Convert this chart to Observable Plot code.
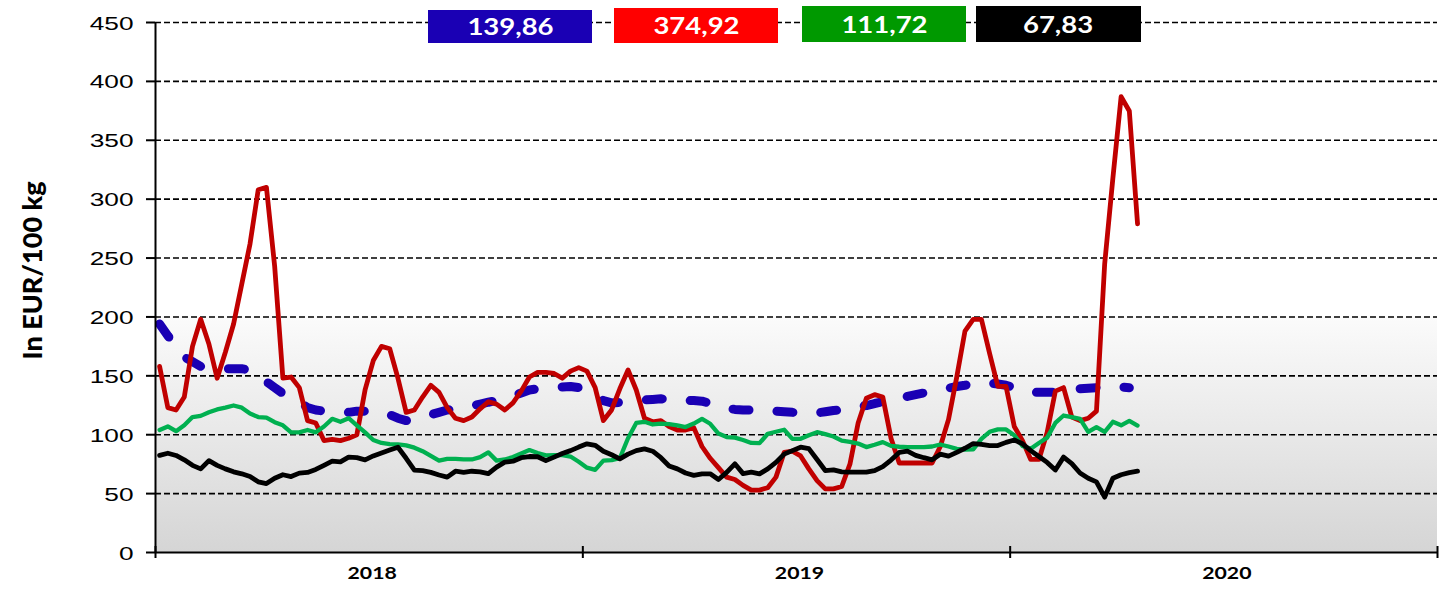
<!DOCTYPE html>
<html><head><meta charset="utf-8">
<script src="https://cdn.jsdelivr.net/npm/d3@7"></script>
<script src="https://cdn.jsdelivr.net/npm/@observablehq/plot@0.6"></script>
<style>
html,body{margin:0;padding:0;background:#fff;overflow:hidden;}
#wrap{position:relative;width:1439px;height:589px;overflow:hidden;}
.badge{position:absolute;color:#fff;font-family:Lato,sans-serif;font-weight:bold;font-size:22px;display:flex;align-items:center;justify-content:center;}
.badge span{display:inline-block;transform:scaleX(1.25);}
</style></head><body><div id="wrap"></div>
<script>
// ---- data ----
const years = ["2018", "2019", "2020"];
const yearStarts = [0, 52, 104, 156];          // week index of year boundaries
const yTicks = [0, 50, 100, 150, 200, 250, 300, 350, 400, 450];
const yTitle = "In EUR/100 kg";
const shadeTop = 200;
const legendValues = ["139,86", "374,92", "111,72", "67,83"];

// weekly values, week 1 of 2018 onwards
const blue = [194,184,175,166,162,158,157,156,156,156, 156,155,150,145,140,135,132,128,123,121,
  120,119,119,119,120,120,120,120,117,114, 112,113,114,117,119,121,122,123,124.5,126,
  127.6,129,130.5,133,135.5,138,139,139.5,140,140.5, 141,140,135.5,132,129,127,127.5,128.5,129,129.5,
  130,130.5,130,129,129,129,128.5,126.5,124,122.5, 121.5,121,121,121,121,120,119.5,119,118.5,117.7,
  118.5,119.5,120.5,121,122.5,123.8,124.8,126.5,128,129.5, 131,132.5,134,135.5,137,138.5,139.5,141,142,143.5,
  144.6,144,143,142,140,137,136,136,136,136, 136.5,137.5,139,139.5,140,141,141,140.5,139.86,null];
const red = [158,123,121,132,175,198,177,148,170,194, 228,262,308,310,243,148,149,140,112,110,
  95,96,95,97,100,138,163,175,173,148, 119,121,132,142,136,123,114,112,115,122,
  128,126,121,127,137,149,153,153,152,148, 154,157,154,140,112,121,139,155,138,114,
  111,112,107,104,104,106,90,80,72,64, 62,57,53,53,55,64,85,86,82,71,
  61,54,54,56,75,110,131,134,132,97, 76,76,76,76,76,90,113,149,188,198,
  198,169,141,141,107,95,79,79,102,137, 140,115,112,114,120,245,318,387,374.92,279];
const green = [104,107,103,108,115,116,119,121.5,123,124.8, 123,118,115,114.5,110.6,108,102,102,104,102,
  107,113.5,111,114,108,102,95.5,93,92,91.8, 91,89,86,82,78,79.5,79.5,79,79,81,
  85,78,79,81,84,87,84.5,82.5,82.6,82.7, 81.5,77,72,70.2,78,78.4,80,97,110,111,
  108.7,109.5,109,108,106.5,109.5,113.5,109.3,101,98, 97.5,95.5,93,92.8,100.8,102.5,104.2,96.5,96.5,99.5,
  102.2,100.5,98.5,95,94,92.5,89.5,91.5,93.7,90.5, 89.8,89.4,89.4,89.4,90,91.7,90,88,87.3,87.5,
  96.5,102.5,104.5,104.5,99.5,90.5,88,93,97.5,110, 116.3,115,113.5,102.5,106.5,102.5,111,108,111.72,107.8];
const black = [82.5,84.3,82.4,78.7,74,71,78,74,71,68.5, 66.8,64.5,60,58.5,63,66,64.5,67.4,68,70.5,
  74,77.5,77,81,80.5,78.7,82,84.5,87,89.4, 80,70,69.5,68,65.8,64,69,68,69,68.5,
  67,72.5,76.7,77.5,80.5,81.5,81.3,78,81,84, 86.5,89.5,92.3,91,86,83,79.5,83.5,86.5,88,
  86,80.5,73.5,71,67.5,65.5,66.8,66.8,62,68, 75.3,67,68.2,66.8,71,76.5,83.5,86.5,89.4,88.2,
  79,69.6,70.2,68.5,68.2,68.2,68.2,69.5,73,78.5, 85,86,82.5,80.5,78.7,83.5,81.8,85,88.5,92.5,
  91.8,90.8,90.8,93.5,95.5,92.3,86.5,81.5,76.5,70, 81,75.5,67.5,63,60,47,63,66,67.83,69];

// ---- helpers ----
const rows = vals => vals.map((v, i) => ({x: i + 0.5, y: v})).filter(d => d.y != null);
const xDomain = [yearStarts[0], yearStarts[yearStarts.length - 1]];
const yearMids = years.map((y, i) => ({x: (yearStarts[i] + yearStarts[i + 1]) / 2, label: y}));
const shade = [{x1: xDomain[0], x2: xDomain[1], y1: 0, y2: shadeTop}];
const yLabels = yTicks.map(v => ({y: v, label: String(v)}));

const svg = Plot.plot({
  width: 1439, height: 589,
  marginLeft: 155, marginRight: 2, marginTop: 22, marginBottom: 37,
  x: {domain: xDomain, axis: null, label: null},
  y: {domain: [yTicks[0], yTicks[yTicks.length - 1]], axis: null, label: null},
  style: {background: "#fff", fontFamily: "Liberation Sans, Arial, sans-serif"},
  marks: [
    Plot.rect(shade, {x1: "x1", x2: "x2", y1: "y1", y2: "y2", fill: "#e6e6e6", className: "shade"}),
    Plot.ruleY(yTicks.filter(d => d > 0), {stroke: "#000", strokeWidth: 1.6, strokeDasharray: "6,3", className: "grid"}),
    Plot.line(rows(blue), {x: "x", y: "y", stroke: "#1a00b4", strokeWidth: 9, strokeDasharray: "16,28", strokeLinecap: "round", strokeLinejoin: "round"}),
    Plot.line(rows(red), {x: "x", y: "y", stroke: "#c00000", strokeWidth: 4.8, strokeLinejoin: "round"}),
    Plot.line(rows(green), {x: "x", y: "y", stroke: "#00b050", strokeWidth: 4.3, strokeLinejoin: "round"}),
    Plot.line(rows(black), {x: "x", y: "y", stroke: "#000", strokeWidth: 4.8, strokeLinejoin: "round"}),
    Plot.ruleY([0], {stroke: "#000", strokeWidth: 2}),
    Plot.ruleX([xDomain[0]], {stroke: "#000", strokeWidth: 2}),
    Plot.axisY({ticks: yTicks, tickSize: 9, tickFormat: () => "", strokeWidth: 2, label: null}),
    Plot.axisX({ticks: yearStarts, tickSize: 12, dy: -6, tickFormat: () => "", strokeWidth: 2, label: null}),
    Plot.text(yLabels, {y: "y", text: "label", frameAnchor: "left", textAnchor: "end", dx: -22, dy: 1.5, fontSize: 17.5, fontFamily: "Liberation Sans", fill: "#000", className: "ylab"}),
    Plot.text(yearMids, {x: "x", text: "label", frameAnchor: "bottom", dy: 26, dx: 3, fontSize: 17, fontFamily: "Lato", fontWeight: "bold", fill: "#000", className: "yearlab"}),
    Plot.text([yTitle], {frameAnchor: "left", textAnchor: "middle", dx: -122, dy: -17, rotate: -90, fontSize: 27, fontFamily: "Lato", fontWeight: 900, fill: "#000", className: "ytitle"})
  ]
});

// gradient for the shaded band
const defs = d3.select(svg).insert("defs", ":first-child");
const grad = defs.append("linearGradient").attr("id", "bgGrad").attr("x1", 0).attr("y1", 0).attr("x2", 0).attr("y2", 1);
grad.append("stop").attr("offset", "0%").attr("stop-color", "#fbfbfb");
grad.append("stop").attr("offset", "100%").attr("stop-color", "#d5d5d5");
d3.select(svg).selectAll(".shade rect").attr("fill", "url(#bgGrad)");

const wrap = document.getElementById("wrap");
wrap.appendChild(svg);

// horizontal stretch of the texts, as in the original (text stays text)
function widen(sel, factor) {
  svg.querySelectorAll(sel).forEach(t => {
    try {
      const w = t.getComputedTextLength();
      if (w > 0) {
        t.setAttribute("textLength", (w * factor).toFixed(1));
        t.setAttribute("lengthAdjust", "spacingAndGlyphs");
      }
    } catch (e) {}
  });
}
widen(".ylab text", 1.5);
widen(".yearlab text", 1.25);

// value badges
const badgeColors = ["#1a00b4", "#ff0000", "#009900", "#000000"];
const badgeBoxes = [[428, 10, 164, 33], [614, 8, 164, 35], [802, 6, 164, 36], [976, 6, 165, 36]];
legendValues.forEach((v, i) => {
  const b = document.createElement("div");
  b.className = "badge";
  const [l, t, w, h] = badgeBoxes[i];
  Object.assign(b.style, {left: l + "px", top: t + "px", width: w + "px", height: h + "px", background: badgeColors[i]});
  const s = document.createElement("span");
  s.textContent = v;
  b.appendChild(s);
  wrap.appendChild(b);
});
</script></body></html>
